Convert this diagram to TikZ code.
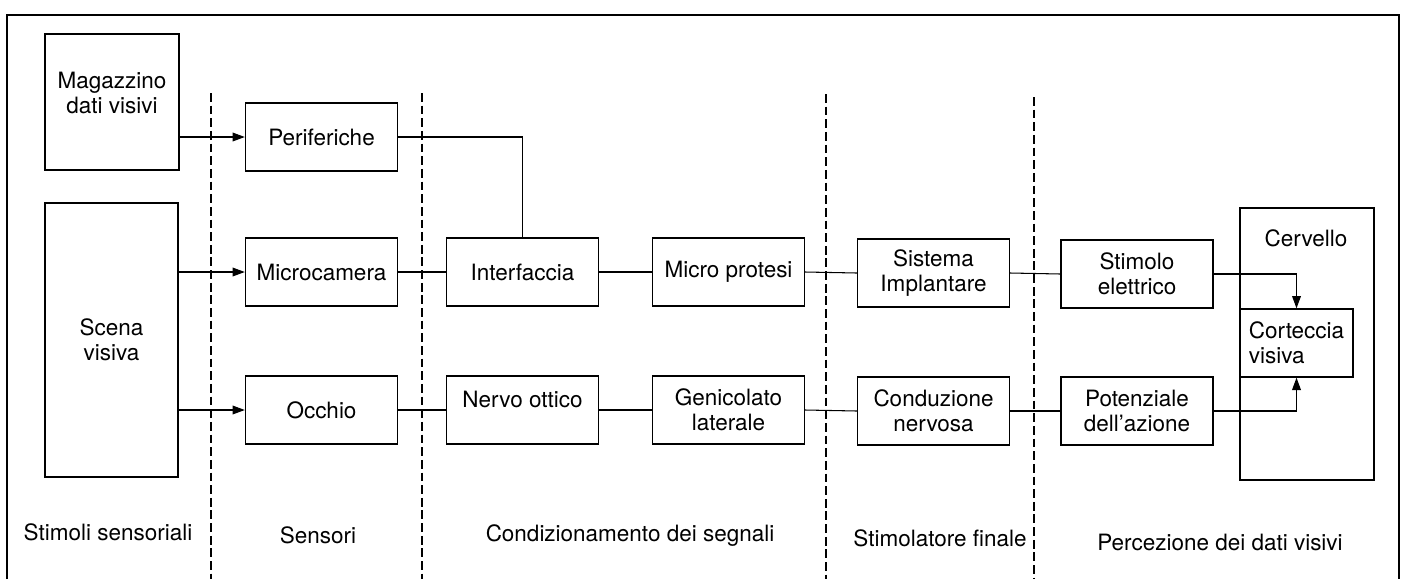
\documentclass[tikz,border=0pt]{standalone}
\usepackage{fontspec}
\setmainfont{TeX Gyre Heros}
\usetikzlibrary{arrows.meta}

\begin{document}
\begin{tikzpicture}[x=0.02cm, y=-0.02cm,
		blk/.style={draw=black, line width=0.8pt, minimum width=3.04cm, minimum height=1.36cm, inner sep=0pt, align=center, font=\fontsize{12.8}{14.2}\selectfont},
		txt/.style={inner sep=0pt, align=center, font=\fontsize{12.8}{14.2}\selectfont},
		lnk/.style={black, line width=0.6pt},
		arr/.style={lnk, -{Triangle[length=7pt, width=5pt]}},
		sep/.style={black, line width=1pt, dash pattern=on 5pt off 2.2pt}]
	\useasboundingbox (0, 0) rectangle (1406, 579);
	\draw[black, line width=1.1pt] (7, 579) -- (7, 15) -- (1399, 15) -- (1399, 579);

	% separatori
	\draw[sep] (211, 93) -- (211, 579);
	\draw[sep] (422, 93) -- (422, 579);
	\draw[sep] (826, 94) -- (826, 579);
	\draw[sep] (1034, 97) -- (1034, 579);

	% stimoli
	\node[blk, minimum width=2.68cm, minimum height=2.72cm] (mag) at (112, 102) {};
	\node[txt] (magtxt) at (112, 93) {Magazzino\\dati visivi};
	\node[blk, minimum width=2.66cm, minimum height=5.48cm] (scena) at (111.5, 340) {Scena\\visiva};

	% sensori
	\node[blk] (per) at (321.5, 137) {Periferiche};
	\node[blk] (micro) at (321.5, 272) {Microcamera};
	\node[blk] (occhio) at (321.5, 410) {Occhio};

	% condizionamento
	\node[blk] (interf) at (522.5, 272) {Interfaccia};
	\node[blk] (protesi) at (728.5, 272) {Micro protesi};
	\node[blk] (nervo) at (522.5, 410) {\raisebox{0.44cm}{Nervo ottico}};
	\node[blk] (genic) at (728.5, 410) {Genicolato\\laterale};

	% stimolatore
	\node[blk] (sist) at (933.5, 273) {Sistema\\Implantare};
	\node[blk] (cond) at (933.5, 411) {Conduzione\\nervosa};

	% percezione
	\node[blk] (stim) at (1137, 274) {Stimolo\\elettrico};
	\node[blk] (pot) at (1137, 411) {Potenziale\\dell'azione};
	\node[blk, minimum width=2.68cm, minimum height=5.44cm] (cerv) at (1307, 344) {};
	\node[txt] (cervtxt) at (1306, 238) {Cervello};
	\node[blk, minimum width=2.26cm, align=left] (cort) at (1296.5, 343) {Corteccia\\visiva};

	\draw[arr] (mag.east |- per.west) -- (per.west);
	\draw[arr] (scena.east |- micro.west) -- (micro.west);
	\draw[arr] (scena.east |- occhio.west) -- (occhio.west);
	\draw[lnk] (per.east) -| (interf.north);
	\draw[lnk] (micro.east) -- (interf.west);
	\draw[lnk] (interf.east) -- (protesi.west);
	\draw[lnk] (protesi.east) -- (sist.west);
	\draw[lnk] (sist.east) -- (stim.west);
	\draw[lnk] (occhio.east) -- (nervo.west);
	\draw[lnk] (nervo.east) -- (genic.west);
	\draw[lnk] (genic.east) -- (cond.west);
	\draw[lnk] (cond.east) -- (pot.west);
	\draw[arr] (stim.east) -| (cort.north);
	\draw[arr] (pot.east) -| (cort.south);

	\node[txt] (l1) at (108, 532) {Stimoli sensoriali};
	\node[txt] (l2) at (318, 535) {Sensori};
	\node[txt] (l3) at (630, 536) {Condizionamento dei segnali};
	\node[txt] (l4) at (940, 538) {Stimolatore finale};
	\node[txt] (l5) at (1220, 542) {Percezione dei dati visivi};
\end{tikzpicture}
\end{document}
